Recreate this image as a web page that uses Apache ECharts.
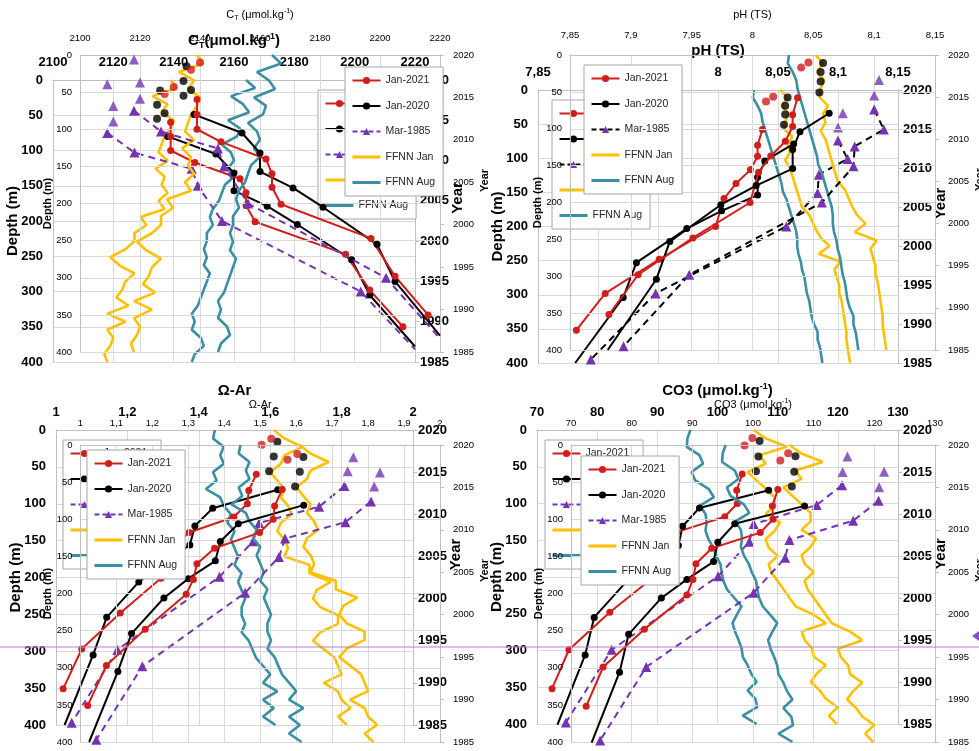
<!DOCTYPE html>
<html>
<head>
<meta charset="utf-8">
<script src="https://cdn.jsdelivr.net/npm/echarts@6/dist/echarts.min.js"></script>
<style>
  html, body { margin: 0; padding: 0; background: #ffffff; }
  #chart { width: 979px; height: 751px; }
</style>
</head>
<body>
<div id="chart"></div>
<script>
// ---------- data: profiles are [value, depth (m)], FFNN series are one value per year ----------
const FFNN_YEARS = [2020, 2019, 2018, 2017, 2016, 2015, 2014, 2013, 2012, 2011, 2010, 2009,
  2008, 2007, 2006, 2005, 2004, 2003, 2002, 2001, 2000, 1999, 1998, 1997,
  1996, 1995, 1994, 1993, 1992, 1991, 1990, 1989, 1988, 1987, 1986, 1985];

// C_T (umol/kg)
const CT_JAN2021_SURFACE = [[2140, 10], [2137, 20]];
const CT_JAN2021 = [[2139, 60], [2139, 80], [2139, 100], [2147, 117], [2162, 140], [2164, 160], [2164, 178], [2167, 201], [2197, 247], [2205, 298], [2216, 350]];
const CT_JAN2020_SURFACE = [[2135.5, 15], [2134.5, 35], [2137, 47], [2134.5, 55]];
const CT_JAN2020 = [[2138, 80], [2154, 105], [2160, 132], [2160, 157], [2171, 179], [2181, 205], [2199, 255], [2205, 305]];
const CT_JAN2020_TAIL = [[2220, 378]];
const CT_MAR1985_SURFACE = [[2118, 6], [2120, 37], [2120, 59]];
const CT_MAR1985 = [[2118, 75], [2127, 103], [2146, 126], [2148, 150], [2156, 200], [2202, 300]];
const CT_MAR1985_TAIL = [[2220, 382]];
const CT_FFNN_JAN = [2139, 2141, 2133, 2138, 2136, 2140, 2139, 2137, 2136, 2135, 2138, 2134, 2137, 2136, 2138, 2135, 2137, 2129,
  2131, 2127, 2127, 2124, 2119, 2122, 2127, 2124, 2123, 2121, 2125, 2118, 2124, 2118, 2120, 2119, 2117, 2118];
const CT_FFNN_AUG = [2164, 2167, 2159, 2163, 2165, 2158, 2162, 2161, 2156, 2159, 2160, 2158, 2160, 2157, 2156, 2155, 2153, 2152,
  2153, 2151, 2151, 2150, 2151, 2150, 2152, 2151, 2150, 2149, 2148, 2146, 2147, 2146, 2149, 2150, 2147, 2146];

// pH (total scale)
const PH_JAN2021_SURFACE = [[8.046, 10], [8.040, 17]];
const PH_JAN2021 = [[8.037, 58], [8.033, 81], [8.033, 97], [8.027, 117], [8.015, 137], [8.005, 159], [7.998, 200], [7.951, 248], [7.906, 298], [7.882, 352]];
const PH_JAN2020_SURFACE = [[8.058, 11], [8.056, 23], [8.056, 36], [8.055, 51]];
const PH_JAN2020 = [[8.063, 79], [8.039, 104], [8.033, 128], [8.033, 154], [8.003, 177], [7.974, 203], [7.932, 253], [7.921, 304]];
const PH_JAN2020_TAIL = [[7.881, 400]];
const PH_MAR1985_SURFACE = [[8.104, 34], [8.100, 55]];
const PH_MAR1985 = [[8.100, 74], [8.108, 101], [8.084, 124], [8.083, 151], [8.057, 200], [7.948, 298], [7.894, 395]];
const PH_MAR1985_TAIL = [];
const PH_FFNN_JAN = [8.052, 8.058, 8.053, 8.059, 8.056, 8.055, 8.062, 8.058, 8.060, 8.056, 8.060, 8.062, 8.064, 8.066, 8.068, 8.070, 8.076, 8.079,
  8.082, 8.086, 8.093, 8.084, 8.102, 8.097, 8.099, 8.101, 8.101, 8.103, 8.104, 8.105, 8.106, 8.107, 8.107, 8.108, 8.109, 8.110];
const PH_FFNN_AUG = [8.030, 8.029, 8.033, 8.036, 8.037, 8.039, 8.041, 8.043, 8.045, 8.047, 8.049, 8.051, 8.053, 8.054, 8.057, 8.059, 8.061, 8.063,
  8.065, 8.066, 8.066, 8.067, 8.069, 8.070, 8.072, 8.073, 8.074, 8.076, 8.077, 8.078, 8.080, 8.083, 8.083, 8.085, 8.086, 8.087];

// Omega aragonite
const AR_JAN2021_SURFACE = [[1.603, 12], [1.576, 20]];
const AR_JAN2021 = [[1.561, 60], [1.540, 82], [1.536, 100], [1.498, 118], [1.373, 139], [1.324, 160], [1.314, 181], [1.294, 201], [1.180, 248], [1.072, 297], [1.020, 351]];
const AR_JAN2020_SURFACE = [[1.620, 16], [1.610, 36], [1.597, 56]];
const AR_JAN2020 = [[1.621, 81], [1.439, 106], [1.389, 130], [1.375, 156], [1.300, 180], [1.232, 206], [1.142, 254], [1.104, 305]];
const AR_JAN2020_TAIL = [[1.024, 400]];
const AR_MAR1985_SURFACE = [[1.833, 37], [1.817, 56]];
const AR_MAR1985 = [[1.808, 76], [1.737, 104], [1.569, 126], [1.552, 151], [1.458, 199], [1.172, 298], [1.044, 397]];
const AR_MAR1985_TAIL = [];
const AR_FFNN_JAN = [1.61, 1.64, 1.69, 1.64, 1.63, 1.60, 1.62, 1.64, 1.63, 1.65, 1.66, 1.63, 1.62, 1.64, 1.65, 1.64, 1.71, 1.71,
  1.77, 1.73, 1.72, 1.74, 1.79, 1.79, 1.74, 1.72, 1.75, 1.78, 1.79, 1.80, 1.75, 1.79, 1.80, 1.825, 1.79, 1.815];
const AR_FFNN_AUG = [1.445, 1.44, 1.47, 1.46, 1.47, 1.44, 1.45, 1.42, 1.46, 1.47, 1.49, 1.48, 1.50, 1.49, 1.50, 1.51, 1.50, 1.52,
  1.51, 1.52, 1.53, 1.52, 1.52, 1.53, 1.52, 1.54, 1.55, 1.56, 1.58, 1.60, 1.58, 1.62, 1.58, 1.61, 1.58, 1.615];

// Carbonate ion (umol/kg)
const CO3_JAN2021_SURFACE = [[105.8, 11], [104.5, 21]];
const CO3_JAN2021 = [[104.1, 60], [103.2, 82], [103.3, 100], [101.2, 118], [93.2, 139], [90.6, 160], [90.1, 181], [89.1, 202], [82.1, 248], [75.3, 299], [72.5, 352]];
const CO3_JAN2020_SURFACE = [[107.0, 15], [106.8, 36], [106.4, 56]];
const CO3_JAN2020 = [[108.5, 82], [97.0, 106], [94.2, 131], [93.5, 157], [89.1, 181], [84.9, 206], [79.5, 255], [78.0, 306]];
const CO3_JAN2020_TAIL = [[73.4, 401]];
const CO3_MAR1985_SURFACE = [[121.6, 36], [120.8, 57]];
const CO3_MAR1985 = [[120.7, 75], [116.5, 102], [106.0, 128], [105.3, 152], [100.1, 199], [82.4, 299], [74.8, 398]];
const CO3_MAR1985_TAIL = [];
const CO3_FFNN_JAN = [106, 108, 111.5, 107, 108, 105, 106.5, 108, 109.5, 109.5, 108, 110.4, 109.5, 108, 108.5, 110, 108.5, 109,
  110, 111, 112, 113, 116, 118, 114, 114.5, 115.7, 116, 118, 116.5, 115.5, 117, 118, 120, 118.5, 119.8];
const CO3_FFNN_AUG = [95.5, 95, 94.9, 97, 97.6, 95.7, 96.3, 98.5, 99.4, 97.1, 98, 98.2, 98, 98.5, 99.3, 99.8, 100.5, 100.7,
  101, 101.6, 102.8, 104, 103.2, 102.5, 102.9, 103.5, 104, 104.2, 105, 105.6, 106.5, 105, 106.3, 106.6, 104.2, 106.5];

const DEPTH_RANGE = [0, 400, 50];
const YEAR_RANGE = [1985, 2020, 5];

// ---------- styling ----------
const FONT = '"Liberation Sans Narrow", "Liberation Sans", Roboto, sans-serif';
const C = { red: '#d21d1d', black: '#000000', purple: '#7434b0', yellow: '#ffc000', teal: '#3a8fa3',
  grid: '#d9d9d9', axis: '#bfbfbf' };
const NO_MARK = 'rgba(0,0,0,0)';

const commaFmt = v => String(Math.round(v * 100) / 100).replace('.', ',');
const plainFmt = v => String(Math.round(v));

const richA = {
  b: { fontFamily: FONT, fontSize: 15, fontWeight: 'bold', color: '#000', lineHeight: 18 },
  bs: { fontFamily: FONT, fontSize: 9, fontWeight: 'bold', color: '#000', verticalAlign: 'bottom', lineHeight: 9 },
  bp: { fontFamily: FONT, fontSize: 9, fontWeight: 'bold', color: '#000', verticalAlign: 'top', lineHeight: 9 }
};
const richB = {
  b: { fontFamily: FONT, fontSize: 11, color: '#000', lineHeight: 14 },
  bs: { fontFamily: FONT, fontSize: 7, color: '#000', verticalAlign: 'bottom', lineHeight: 7 },
  bp: { fontFamily: FONT, fontSize: 7, color: '#000', verticalAlign: 'top', lineHeight: 7 }
};

// Each panel is drawn twice: a bold copy and a lighter copy laid slightly offset over it.
const PANELS = [
  {
    min: 2100, max: 2220, fmt: plainFmt, mar85Line: C.purple,
    titleA: '{b|C}{bs|T}{b|(μmol.kg}{bp|-1}{b|)}', titleB: '{b|C}{bs|T}{b| (μmol.kg}{bp|-1}{b|)}',
    d: { r: CT_JAN2021, rs: CT_JAN2021_SURFACE, k: CT_JAN2020, ks: CT_JAN2020_SURFACE, kt: CT_JAN2020_TAIL,
         p: CT_MAR1985, ps: CT_MAR1985_SURFACE, pt: CT_MAR1985_TAIL, jan: CT_FFNN_JAN, aug: CT_FFNN_AUG },
    copies: [
      { big: true, left: 53, top: 80, width: 362, height: 282, interval: 20, labelMargin: 11, legend: [318, 90] },
      { big: false, left: 80, top: 55, width: 360, height: 297, interval: 20, labelMargin: 12, legend: [345, 67] }
    ]
  },
  {
    min: 7.85, max: 8.15, fmt: commaFmt, mar85Line: C.black,
    titleA: '{b|pH (TS)}', titleB: '{b|pH (TS)}',
    d: { r: PH_JAN2021, rs: PH_JAN2021_SURFACE, k: PH_JAN2020, ks: PH_JAN2020_SURFACE, kt: PH_JAN2020_TAIL,
         p: PH_MAR1985, ps: PH_MAR1985_SURFACE, pt: PH_MAR1985_TAIL, jan: PH_FFNN_JAN, aug: PH_FFNN_AUG },
    copies: [
      { big: true, left: 538, top: 90, width: 360, height: 273, interval: 0.05, labelMargin: 11, legend: [552, 100] },
      { big: false, left: 570, top: 55, width: 365, height: 295, interval: 0.05, labelMargin: 15, legend: [584, 65] }
    ]
  },
  {
    min: 1, max: 2, fmt: commaFmt, mar85Line: C.purple,
    titleA: '{b|Ω-Ar}', titleB: '{b|Ω-Ar}',
    d: { r: AR_JAN2021, rs: AR_JAN2021_SURFACE, k: AR_JAN2020, ks: AR_JAN2020_SURFACE, kt: AR_JAN2020_TAIL,
         p: AR_MAR1985, ps: AR_MAR1985_SURFACE, pt: AR_MAR1985_TAIL, jan: AR_FFNN_JAN, aug: AR_FFNN_AUG },
    copies: [
      { big: true, left: 56, top: 430, width: 357, height: 295, interval: 0.2, labelMargin: 11, legend: [63, 440] },
      { big: false, left: 80.5, top: 445, width: 359.5, height: 297, interval: 0.1, labelMargin: 17, legend: [87, 450] }
    ]
  },
  {
    min: 70, max: 130, fmt: plainFmt, mar85Line: C.purple,
    titleA: '{b|CO3 (μmol.kg}{bp|-1}{b|)}', titleB: '{b|CO3 (μmol.kg}{bp|-1}{b|)}',
    d: { r: CO3_JAN2021, rs: CO3_JAN2021_SURFACE, k: CO3_JAN2020, ks: CO3_JAN2020_SURFACE, kt: CO3_JAN2020_TAIL,
         p: CO3_MAR1985, ps: CO3_MAR1985_SURFACE, pt: CO3_MAR1985_TAIL, jan: CO3_FFNN_JAN, aug: CO3_FFNN_AUG },
    copies: [
      { big: true, left: 537, top: 430, width: 361, height: 294, interval: 10, labelMargin: 11, legend: [545, 440] },
      { big: false, left: 571, top: 445, width: 364, height: 297, interval: 10, labelMargin: 17, legend: [581, 456] }
    ]
  }
];

const option = {
  backgroundColor: '#ffffff',
  animation: false,
  textStyle: { fontFamily: FONT },
  grid: [], xAxis: [], yAxis: [], series: [], legend: [], graphic: []
};

function lineSeries(name, pts, tail, color, lineColor, symbol, size, dashed, xi, yi, z) {
  const data = pts.map(p => p.slice()).concat((tail || []).map(p => ({ value: p.slice(), symbol: 'none' })));
  return {
    type: 'line', name, xAxisIndex: xi, yAxisIndex: yi, data, z,
    symbol, symbolSize: size, showSymbol: true, showAllSymbol: true,
    lineStyle: { color: lineColor, width: 2, type: dashed ? [7, 5] : 'solid' },
    itemStyle: { color },
    emphasis: { disabled: true }, silent: true
  };
}
function dotSeries(name, pts, color, symbol, size, xi, yi, z) {
  return {
    type: 'scatter', name, xAxisIndex: xi, yAxisIndex: yi, data: pts.map(p => p.slice()), z,
    symbol, symbolSize: size, itemStyle: { color }, emphasis: { disabled: true }, silent: true
  };
}
function ffnnSeries(name, vals, color, xi, yi, z) {
  return {
    type: 'line', name, xAxisIndex: xi, yAxisIndex: yi, z,
    data: FFNN_YEARS.map((y, i) => [vals[i], y]),
    symbol: 'none', showSymbol: false,
    lineStyle: { color, width: 2.6 }, itemStyle: { color },
    emphasis: { disabled: true }, silent: true
  };
}

PANELS.forEach(panel => {
  panel.copies.forEach(cp => {
    const big = cp.big;
    const zBase = big ? 1 : 5;
    const gi = option.grid.length;
    option.grid.push({ left: cp.left, top: cp.top, width: cp.width, height: cp.height,
      containLabel: false, outerBoundsMode: 'none' });

    const labelFont = big
      ? { fontFamily: FONT, fontSize: 13, fontWeight: 'bold', color: '#000' }
      : { fontFamily: FONT, fontSize: 9.5, color: '#000' };

    const xi = option.xAxis.length;
    option.xAxis.push({
      type: 'value', gridIndex: gi, position: 'top', z: zBase,
      min: panel.min, max: panel.max, interval: cp.interval,
      name: big ? panel.titleA : panel.titleB, nameLocation: 'middle', nameGap: big ? 30 : 33,
      nameMoveOverlap: false,
      nameTextStyle: { rich: big ? richA : richB },
      axisLine: { show: true, lineStyle: { color: C.axis } },
      axisTick: { show: false },
      axisLabel: Object.assign({ margin: cp.labelMargin, formatter: panel.fmt }, labelFont),
      splitLine: { show: true, lineStyle: { color: C.grid, width: 1 } }
    });

    const yDepth = option.yAxis.length;
    option.yAxis.push({
      type: 'value', gridIndex: gi, position: 'left', inverse: true, z: zBase,
      min: DEPTH_RANGE[0], max: DEPTH_RANGE[1], interval: DEPTH_RANGE[2],
      name: 'Depth (m)', nameLocation: 'middle', nameRotate: 90, nameGap: big ? 33 : 27,
      nameMoveOverlap: false,
      nameTextStyle: { fontFamily: FONT, fontWeight: 'bold', fontSize: big ? 15 : 11, color: '#000' },
      axisLine: { show: true, lineStyle: { color: C.axis } },
      axisTick: { show: false },
      axisLabel: Object.assign({ margin: big ? 10 : 8, formatter: plainFmt }, labelFont),
      splitLine: { show: true, lineStyle: { color: C.grid, width: 1 } }
    });

    const yYear = option.yAxis.length;
    option.yAxis.push({
      type: 'value', gridIndex: gi, position: 'right', z: zBase,
      min: YEAR_RANGE[0], max: YEAR_RANGE[1], interval: YEAR_RANGE[2],
      name: 'Year', nameLocation: 'middle', nameRotate: 90, nameGap: big ? 35 : 39,
      nameMoveOverlap: false,
      nameTextStyle: { fontFamily: FONT, fontWeight: 'bold', fontSize: big ? 15 : 11, color: '#000',
        padding: [0, 0, 0, 46] },
      axisLine: { show: true, onZero: false, lineStyle: { color: C.axis } },
      axisTick: { show: true, inside: false, length: 4, lineStyle: { color: C.axis } },
      axisLabel: Object.assign({ margin: big ? 5 : 13, formatter: plainFmt }, labelFont),
      splitLine: { show: false }
    });

    const d = panel.d;
    const zs = zBase + 1;
    option.series.push(
      ffnnSeries('FFNN Jan', d.jan, C.yellow, xi, yYear, zs),
      ffnnSeries('FFNN Aug', d.aug, C.teal, xi, yYear, zs),
      lineSeries('Mar-1985', d.p, d.pt, C.purple, panel.mar85Line, 'triangle', 10, true, xi, yDepth, zs),
      dotSeries('Mar-1985 near surface', d.ps, C.purple, 'triangle', 10, xi, yDepth, zs),
      lineSeries('Jan-2020', d.k, d.kt, C.black, C.black, 'circle', 7, false, xi, yDepth, zs),
      dotSeries('Jan-2020 near surface', d.ks, C.black, 'circle', 8, xi, yDepth, zs),
      lineSeries('Jan-2021', d.r, null, C.red, C.red, 'circle', 7, false, xi, yDepth, zs),
      dotSeries('Jan-2021 near surface', d.rs, C.red, 'circle', 8, xi, yDepth, zs)
    );

    option.legend.push({
      show: true, orient: 'vertical', left: cp.legend[0], top: cp.legend[1], z: zBase + 3,
      backgroundColor: '#ffffff', borderColor: '#a6a6a6', borderWidth: 1, borderRadius: 0,
      padding: [8, 8, 8, 6], itemGap: 14.5, itemWidth: 28, itemHeight: 9,
      selectedMode: false,
      textStyle: { fontFamily: FONT, fontSize: 10.5, color: '#262626' },
      data: [
        { name: 'Jan-2021', itemStyle: { color: C.red }, lineStyle: { color: C.red, width: 2 } },
        { name: 'Jan-2020', itemStyle: { color: C.black }, lineStyle: { color: C.black, width: 2 } },
        { name: 'Mar-1985', itemStyle: { color: C.purple }, lineStyle: { color: panel.mar85Line, width: 2, type: [5, 3] } },
        { name: 'FFNN Jan', itemStyle: { color: NO_MARK, borderColor: NO_MARK, borderWidth: 0 },
          lineStyle: { color: C.yellow, width: 3 } },
        { name: 'FFNN Aug', itemStyle: { color: NO_MARK, borderColor: NO_MARK, borderWidth: 0 },
          lineStyle: { color: C.teal, width: 3 } }
      ]
    });
  });
});

// thin marker line across the lower panels
option.graphic.push(
  { type: 'line', z: 50, silent: true, shape: { x1: 0, y1: 647, x2: 979, y2: 647 },
    style: { stroke: '#b77fcf', lineWidth: 1 } },
  { type: 'polygon', z: 50, silent: true, shape: { points: [[979, 631], [972, 636], [979, 641]] },
    style: { fill: '#8a4fc0' } }
);

const chart = echarts.init(document.getElementById('chart'), null, { renderer: 'canvas' });
chart.setOption(option);
</script>
</body>
</html>
